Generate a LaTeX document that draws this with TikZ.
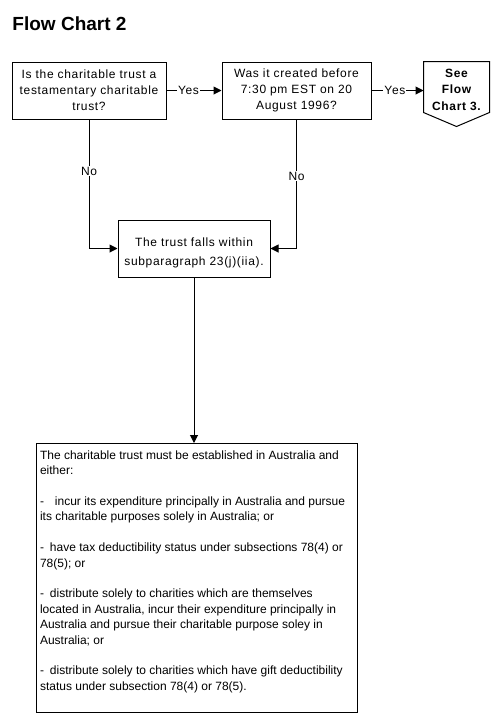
\documentclass[tikz,border=0pt]{standalone}
\usepackage{fontspec}
\setmainfont{Liberation Sans}
\newfontfamily\boxfont[LetterSpace=5.5]{Liberation Sans}
\usetikzlibrary{arrows.meta}

\begin{document}
\begin{tikzpicture}[x=1pt,y=-1pt,line width=1pt,
	qbox/.style={draw,align=center,inner xsep=2pt,inner ysep=0pt,minimum height=57pt,font=\boxfont\fontsize{12}{16}\selectfont},
	lbl/.style={fill=white,inner sep=1pt,font=\boxfont\fontsize{12}{13}\selectfont},
	arr/.style={-{Triangle[length=8pt,width=8pt]}}]

\useasboundingbox (0,0) rectangle (500,724);

\node[anchor=base west,inner sep=0pt,font=\bfseries\fontsize{19}{20}\selectfont] (title) at (12,30) {Flow Chart 2};

% the two questions
\node[qbox,minimum width=154pt] (qa) at (89,90.5) {Is the charitable trust a\\ testamentary charitable\\ trust?};
\node[qbox,minimum width=149pt] (qb) at (296.5,90.5) {Was it created before\\ 7:30 pm EST on 20\\ August 1996?};

% off-page connector
\node[align=center,inner sep=0pt,minimum width=65pt,minimum height=55pt,font=\boxfont\bfseries\fontsize{12}{16.5}\selectfont] (seefc) at (456.5,89.5) {See\\ Flow\\ Chart 3.};
\draw (seefc.north west) -- (seefc.north east) -- ([yshift=5pt]seefc.south east)
	-- ([yshift=-9pt]seefc.south) -- ([yshift=5pt]seefc.south west) -- cycle;

\node[qbox,minimum width=152pt,font=\boxfont\fontsize{12}{19}\selectfont] (qd) at (194,248.5) {\rule{0pt}{16.8pt}The trust falls within\\ subparagraph 23(j)(iia).};

\node[draw,anchor=north,inner xsep=4pt,inner ysep=5pt,font=\fontsize{12}{15.4}\selectfont] (qe) at (196.5,443) {%
\begin{minipage}[t][259pt][t]{313pt}
	\raggedright\setlength{\parskip}{15.4pt}\strut The charitable trust must be established in Australia and\\ either:

	-\hspace{11pt}incur its expenditure principally in Australia and pursue\\ its charitable purposes solely in Australia; or

	-\hspace{6pt}have tax deductibility status under subsections 78(4) or\\ 78(5); or

	-\hspace{6pt}distribute solely to charities which are themselves\\ located in Australia, incur their expenditure principally in\\ Australia and pursue their charitable purpose soley in\\ Australia; or

	-\hspace{6pt}distribute solely to charities which have gift deductibility\\ status under subsection 78(4) or 78(5).
\end{minipage}};

% connectors
\draw[arr] (qa.east) -- node[lbl,pos=0.4] {Yes} (qb.west);
\draw[arr] (qb.east) -- node[lbl,pos=0.45] {Yes} (qb.east -| seefc.west);
\draw[arr] (qa.south) |- node[lbl,pos=0.2] {No} (qd.west);
\draw[arr] (qb.south) |- node[lbl,pos=0.22] {No} (qd.east);
\draw[arr] (qd.south) -- (qd.south |- qe.north);

\end{tikzpicture}
\end{document}
